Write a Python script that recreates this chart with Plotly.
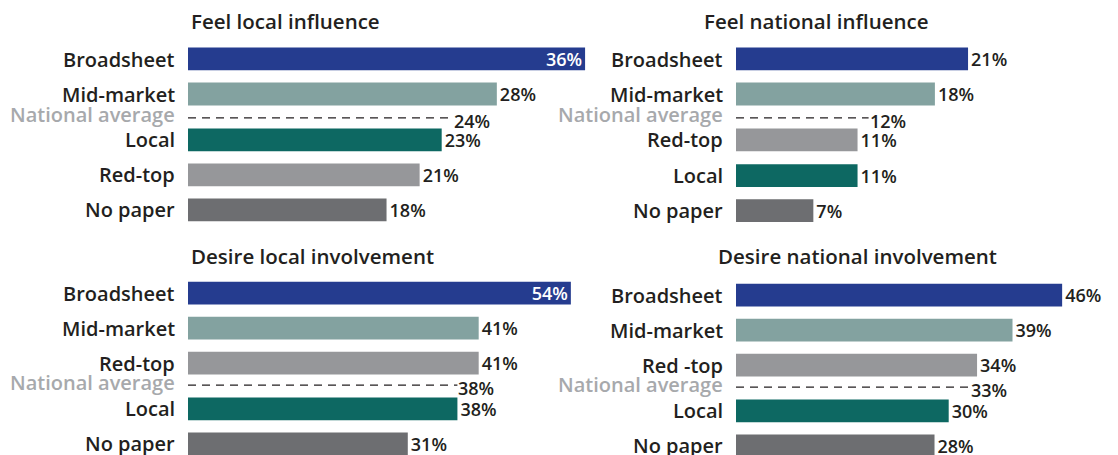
import plotly.graph_objects as go

# ---------------- data ----------------
fli_title = "Feel local influence"
fli_cats = ["Broadsheet", "Mid-market", "Local", "Red-top", "No paper"]
fli_vals = [36, 28, 23, 21, 18]
fli_avg = 24

fni_title = "Feel national influence"
fni_cats = ["Broadsheet", "Mid-market", "Red-top", "Local", "No paper"]
fni_vals = [21, 18, 11, 11, 7]
fni_avg = 12

dli_title = "Desire local involvement"
dli_cats = ["Broadsheet", "Mid-market", "Red-top", "Local", "No paper"]
dli_vals = [54, 41, 41, 38, 31]
dli_avg = 38

dni_title = "Desire national involvement"
dni_cats = ["Broadsheet", "Mid-market", "Red -top", "Local", "No paper"]
dni_vals = [46, 39, 34, 30, 28]
dni_avg = 33

avg_label = "National average"

# ---------------- style ----------------
W, H = 1118, 455
FONT = "Open Sans"
WEIGHT = 600
TXT = "#231f20"
AVG_COL = "#a7a9ac"
SZ_TITLE, SZ_CAT, SZ_VAL = 20.5, 20, 18
colors = {
    "Broadsheet": "#253c8f",
    "Mid-market": "#83a2a0",
    "Local": "#0d6862",
    "Red-top": "#96979a",
    "No paper": "#6d6e71",
}

PITCH = 35.0
panels = [
    dict(title=fli_title, cats=fli_cats, vals=fli_vals, avg=fli_avg,
         x0=188, x1=600, ppu=11.03, ytop=38, ybot=232, y0=59,
         pos=[0, 1, 2.31, 3.31, 4.31], apos=1.68, inside=[0], tx=189, ty=21),
    dict(title=fni_title, cats=fni_cats, vals=fni_vals, avg=fni_avg,
         x0=736, x1=1110, ppu=11.05, ytop=38, ybot=232, y0=59,
         pos=[0, 1, 2.31, 3.33, 4.33], apos=1.68, inside=[], tx=702, ty=21),
    dict(title=dli_title, cats=dli_cats, vals=dli_vals, avg=dli_avg,
         x0=188, x1=600, ppu=7.09, ytop=272, ybot=455, y0=293,
         pos=[0, 1, 2, 3.31, 4.31], apos=2.63, inside=[0], tx=189, ty=256),
    dict(title=dni_title, cats=dni_cats, vals=dni_vals, avg=dni_avg,
         x0=736, x1=1110, ppu=7.09, ytop=272, ybot=455, y0=295,
         pos=[0, 1, 2, 3.31, 4.31], apos=2.63, inside=[], tx=716, ty=256),
]

fig = go.Figure()
annotations = []
layout = dict(
    width=W, height=H, margin=dict(l=0, r=0, t=0, b=0),
    paper_bgcolor="white", plot_bgcolor="white", showlegend=False,
    font=dict(family=FONT, color=TXT, size=SZ_VAL),
    uniformtext=dict(minsize=SZ_VAL, mode="show"),
)

for i, p in enumerate(panels, start=1):
    xs = "" if i == 1 else str(i)
    xname, yname = "x" + xs, "y" + xs
    xr = [0, (p["x1"] - p["x0"]) / p["ppu"]]
    yr = [(p["ybot"] - p["y0"]) / PITCH, (p["ytop"] - p["y0"]) / PITCH]
    layout["xaxis" + xs] = dict(domain=[p["x0"] / W, p["x1"] / W], range=xr,
                                visible=False, anchor=yname, fixedrange=True)
    layout["yaxis" + xs] = dict(domain=[1 - p["ybot"] / H, 1 - p["ytop"] / H], range=yr,
                                visible=False, anchor=xname, fixedrange=True)

    cols = [colors[c.replace(" -", "-")] for c in p["cats"]]
    tpos = ["inside" if k in p["inside"] else "outside" for k in range(len(p["vals"]))]
    tcol = ["white" if k in p["inside"] else TXT for k in range(len(p["vals"]))]
    fig.add_trace(go.Bar(
        x=p["vals"], y=p["pos"], orientation="h", width=0.65,
        marker=dict(color=cols, line=dict(width=0)),
        text=[f"{v}%" for v in p["vals"]], textposition=tpos,
        insidetextanchor="end", textangle=0,
        textfont=dict(color=tcol, size=SZ_VAL, family=FONT, weight=WEIGHT),
        cliponaxis=False, xaxis=xname, yaxis=yname, hoverinfo="skip",
    ))
    fig.add_trace(go.Scatter(
        x=[0, p["avg"]], y=[p["apos"], p["apos"]], mode="lines",
        line=dict(color=TXT, width=1.3, dash="8px,6px"),
        xaxis=xname, yaxis=yname, hoverinfo="skip", cliponaxis=False,
    ))
    annotations.append(dict(
        x=p["avg"], y=p["apos"], xref=xname, yref=yname, text=f"{p['avg']}%",
        showarrow=False, xanchor="left", yanchor="middle", xshift=-1, yshift=-3,
        font=dict(family=FONT, size=SZ_VAL, color=TXT, weight=WEIGHT),
    ))
    for c, y in zip(p["cats"], p["pos"]):
        annotations.append(dict(
            x=(p["x0"] - 11) / W, y=y, xref="paper", yref=yname, text=c,
            showarrow=False, xanchor="right", yanchor="middle",
            font=dict(family=FONT, size=SZ_CAT, color=TXT, weight=WEIGHT),
        ))
    annotations.append(dict(
        x=(p["x0"] - 11) / W, y=p["apos"], xref="paper", yref=yname, text=avg_label,
        showarrow=False, xanchor="right", yanchor="middle", yshift=3,
        font=dict(family=FONT, size=SZ_CAT, color=AVG_COL, weight=WEIGHT),
    ))
    annotations.append(dict(
        x=p["tx"] / W, y=1 - p["ty"] / H, xref="paper", yref="paper", text=p["title"],
        showarrow=False, xanchor="left", yanchor="middle",
        font=dict(family=FONT, size=SZ_TITLE, color=TXT, weight=WEIGHT),
    ))

layout["annotations"] = annotations
fig.update_layout(**layout)
fig.write_html("out.html", config={"displayModeBar": False},
               post_script="document.body.style.margin='0px';")
